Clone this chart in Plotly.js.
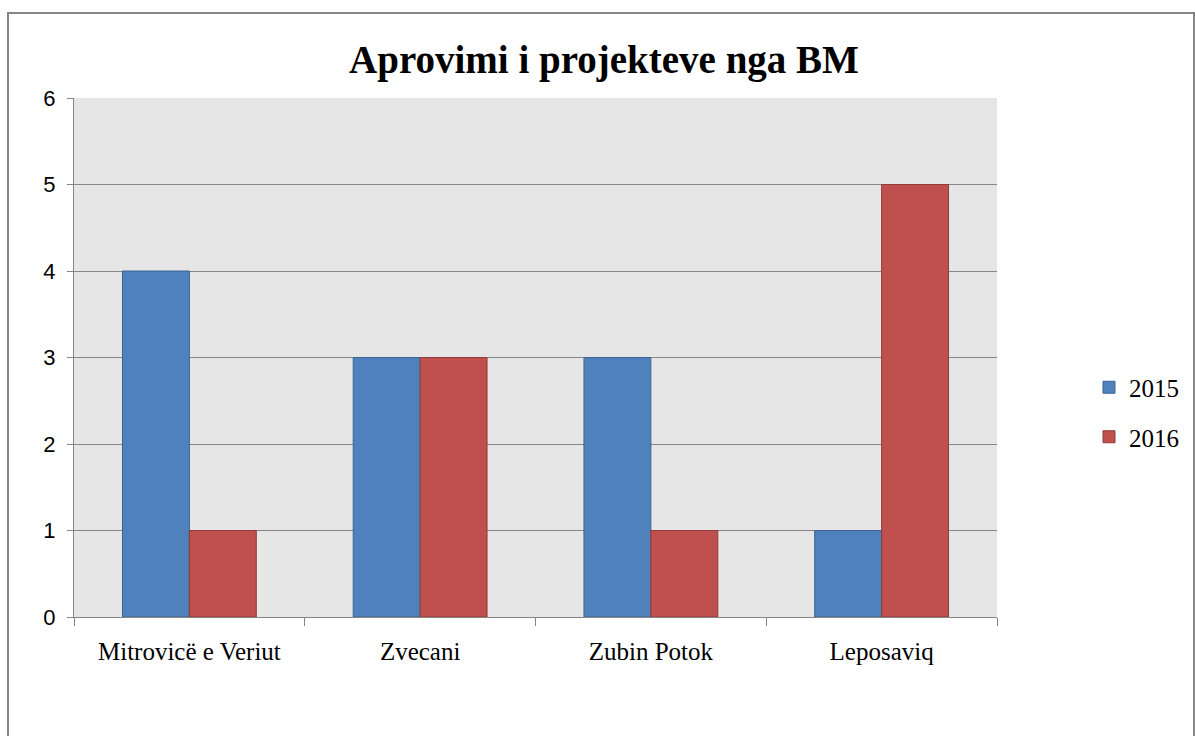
<!DOCTYPE html>
<html>
<head>
<meta charset="utf-8">
<script src="https://cdn.plot.ly/plotly-3.0.1.min.js"></script>
<style>html,body{margin:0;padding:0;background:#fff;}#chart{width:1195px;height:736px;}</style>
</head>
<body>
<div id="chart"></div>
<script>
const categories = ["Mitrovicë e Veriut", "Zvecani", "Zubin Potok", "Leposaviq"];
const series2015 = [4, 3, 3, 1];
const series2016 = [1, 3, 1, 5];
const seriesNames = ["2015", "2016"];
const yTicks = [0, 1, 2, 3, 4, 5, 6];

const serif = "Liberation Serif, serif";
const sans = "Liberation Sans, sans-serif";

const traces = [
  {type: "bar", name: seriesNames[0], x: categories, y: series2015, legendgroup: "a",
   marker: {color: "#4f81bd", line: {color: "#3b6494", width: 1}}},
  {type: "bar", name: seriesNames[1], x: categories, y: series2016, legendgroup: "b",
   marker: {color: "#c0504d", line: {color: "#8e3b39", width: 1}}}
];

const layout = {
  width: 1195, height: 736,
  margin: {l: 74, r: 198, t: 98, b: 119, autoexpand: false},
  paper_bgcolor: "#ffffff",
  plot_bgcolor: "#e6e6e6",
  barmode: "group",
  bargap: 0.42,
  bargroupgap: 0,
  title: {text: "<b>Aprovimi i projekteve nga BM</b>", font: {family: serif, size: 39, color: "#000"},
          x: 604/1195, xanchor: "center", y: 1 - 59/736, yanchor: "middle"},
  xaxis: {
    type: "category", showgrid: false, showline: true, linecolor: "#868686", linewidth: 1,
    ticks: "outside", tickson: "boundaries", ticklen: 8, tickcolor: "#868686",
    ticklabelstandoff: 12,
    tickfont: {family: serif, size: 25, color: "#000"}, zeroline: false, fixedrange: true
  },
  yaxis: {
    range: [0, 6], tickvals: yTicks, showgrid: true, gridcolor: "#868686", gridwidth: 1,
    showline: true, linecolor: "#868686", linewidth: 1, ticks: "outside", ticklen: 6, tickcolor: "#868686",
    ticklabelstandoff: 7,
    tickfont: {family: sans, size: 22, color: "#000"}, zeroline: false, fixedrange: true
  },
  legend: {xref: "container", yref: "container", x: 1089/1195, xanchor: "left", y: 1 - 412/736, yanchor: "middle",
           font: {family: serif, size: 25, color: "#000"}, tracegroupgap: 14,
           traceorder: "grouped", itemwidth: 30, bgcolor: "rgba(0,0,0,0)"},
  showlegend: true,
  shapes: [{type: "rect", xref: "paper", yref: "paper", x0: -66/923, x1: (1194-74)/923,
            y0: -140/519, y1: (617-13)/519, line: {color: "#868686", width: 2}, fillcolor: "rgba(0,0,0,0)", layer: "below"}]
};

Plotly.newPlot("chart", traces, layout, {displayModeBar: false, staticPlot: true});
</script>
</body>
</html>
